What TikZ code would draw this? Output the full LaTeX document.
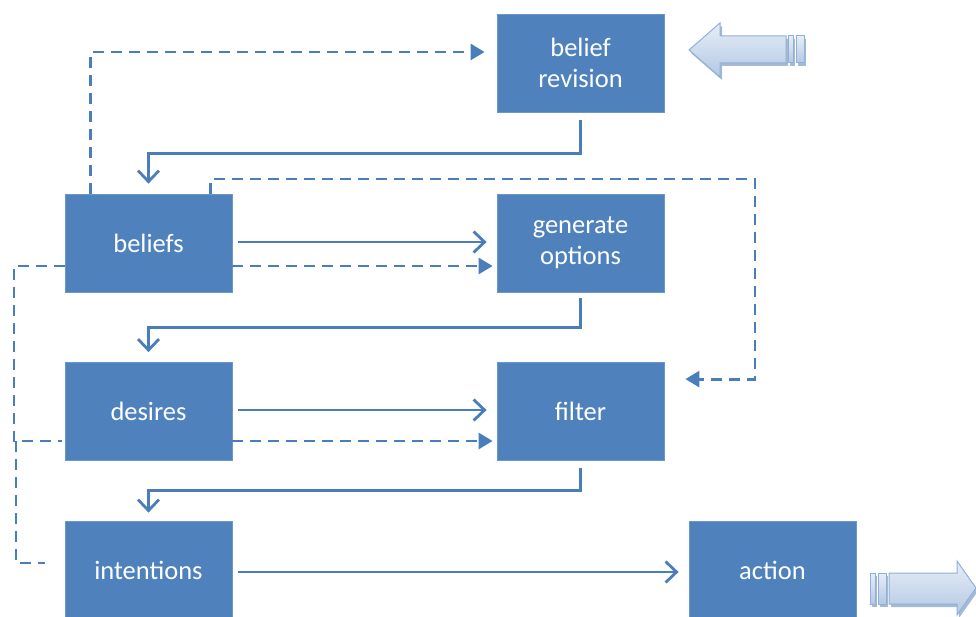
\documentclass[tikz,border=0pt]{standalone}
\usepackage{fontspec}
\setmainfont{Carlito}
\usetikzlibrary{arrows.meta,calc}
\definecolor{boxblue}{HTML}{4F81BD}
\definecolor{boxedge}{HTML}{6C96C9}
\definecolor{linkblue}{HTML}{4A7EBB}
\definecolor{arrowlight}{HTML}{E6EEF7}
\definecolor{arrowmid}{HTML}{B3C8E3}
\definecolor{arrowedge}{HTML}{8FB0D8}
\definecolor{arrowshadow}{HTML}{A7BAD3}
\begin{document}
\begin{tikzpicture}[x=1pt,y=-1pt,
  stage/.style={draw=boxedge, line width=0.8pt, fill=boxblue,
    minimum width=167pt, minimum height=98pt, inner sep=0pt,
    text=white, align=center, font=\fontsize{26.5}{30.5}\selectfont},
  flow/.style={draw=linkblue, line width=2.8pt,
    -{Straight Barb[length=11pt,width=21pt]}},
  info/.style={draw=linkblue, line width=2.8pt, dash pattern=on 11pt off 7pt},
  infotip/.style={info, -{Triangle[length=14pt,width=16pt]}},
  bigarrow/.style={draw=arrowedge, line width=1pt, top color=arrowlight, bottom color=arrowmid},
  bigshadow/.style={fill=arrowshadow, draw=none}]
\useasboundingbox (0,0) rectangle (976,617);

% processing stages
\node[stage] (brev)    at (580.5,63)    {belief\\revision};
\node[stage] (beliefs) at (148.5,243)   {beliefs};
\node[stage] (gen)     at (580.5,243)   {generate\\options};
\node[stage] (desires) at (148.5,411.5) {desires};
\node[stage] (filter)  at (580.5,411.5) {filter};
\node[stage] (intent)  at (148.5,570)   {intentions};
\node[stage] (action)  at (772.5,570)   {action};

% helper points for the dashed routes
\coordinate (loopcorner) at (755,179);
\coordinate (leftbus)    at (14,266);
\coordinate (leftbus2)   at (16,441);

% main control flow
\draw[flow] ([yshift=-8pt]brev.south) -- ++(0,33) -| ([yshift=10pt]beliefs.north);
\draw[flow] ([xshift=6pt,yshift=1pt]beliefs.east) -- ([xshift=-10pt,yshift=1pt]gen.west);
\draw[flow] ([yshift=-6pt]gen.south) -- ++(0,29) -| ([yshift=10pt]desires.north);
\draw[flow] ([xshift=6pt,yshift=1.5pt]desires.east) -- ([xshift=-10pt,yshift=1.5pt]filter.west);
\draw[flow] ([yshift=-7.5pt]filter.south) -- ++(0,22) -| ([yshift=8pt]intent.north);
\draw[flow] ([xshift=6pt,yshift=-2pt]intent.east) -- ([xshift=-10pt,yshift=-2pt]action.west);

% information flow
\draw[infotip] ([xshift=26pt]beliefs.north west) |- ([xshift=-12pt,yshift=11pt]brev.west);
\draw[infotip] (beliefs.east |- 0,266) -- ([xshift=-4pt]gen.west |- 0,266);
\draw[infotip] ([xshift=-22pt]beliefs.north east) |- (loopcorner) |- ([xshift=21pt,yshift=-17pt]filter.north east);
\draw[infotip] (desires.east |- 0,441) -- ([xshift=-4pt]filter.west |- 0,441);
\draw[info] (beliefs.west |- 0,266) -- (leftbus) |- ([xshift=-3pt]desires.west |- 0,441);
\draw[info] (leftbus2) |- ([xshift=-20pt,yshift=7pt]intent.west);

% input arrow
\begin{scope}[shift={(2,3)}]
  \fill[bigshadow] (689,50) -- (720,23) -- (720,36) -- (786,36) -- (786,63) -- (720,63) -- (720,77) -- cycle;
  \fill[bigshadow] (788,36) rectangle (793,63);
  \fill[bigshadow] (796,36) rectangle (804,63);
\end{scope}
\path[bigarrow] (689,50) -- (720,23) -- (720,36) -- (786,36) -- (786,63) -- (720,63) -- (720,77) -- cycle;
\path[bigarrow] (788,36) rectangle (793,63);
\path[bigarrow] (796,36) rectangle (804,63);

% output arrow
\begin{scope}[shift={(2,3)}]
  \fill[bigshadow] (976,588) -- (957,561) -- (957,573) -- (889,573) -- (889,604) -- (957,604) -- (957,615) -- cycle;
  \fill[bigshadow] (870,573) rectangle (875,604);
  \fill[bigshadow] (878,573) rectangle (886,604);
\end{scope}
\path[bigarrow] (976,588) -- (957,561) -- (957,573) -- (889,573) -- (889,604) -- (957,604) -- (957,615) -- cycle;
\path[bigarrow] (870,573) rectangle (875,604);
\path[bigarrow] (878,573) rectangle (886,604);
\end{tikzpicture}
\end{document}
